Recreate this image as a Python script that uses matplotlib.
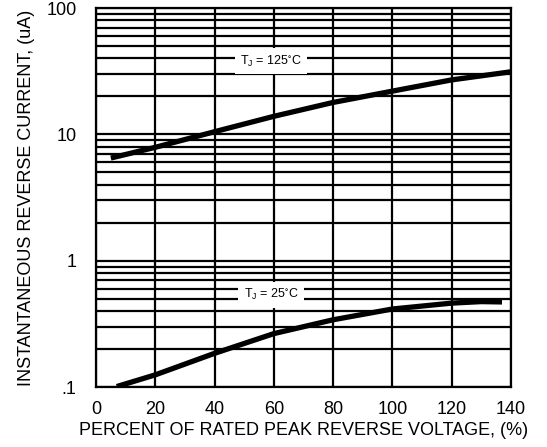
import numpy as np
import matplotlib.pyplot as plt
from matplotlib.ticker import FixedLocator, NullFormatter

plt.rcParams['font.family'] = ['Liberation Sans', 'DejaVu Sans']

# percent of rated peak reverse voltage
v_125 = [5, 20, 40, 60, 80, 100, 120, 140]
i_125 = [6.5, 7.9, 10.5, 13.9, 17.9, 22.0, 27.0, 31.3]

v_25 = [7, 20, 40, 60, 80, 100, 120, 130, 137]
i_25 = [0.101, 0.125, 0.185, 0.265, 0.341, 0.415, 0.462, 0.475, 0.472]

x_ticks = [0, 20, 40, 60, 80, 100, 120, 140]
y_ticks = [0.1, 1, 10, 100]
y_tick_labels = ['.1', '1', '10', '100']

fig = plt.figure(figsize=(5.47, 4.47), dpi=100)
ax = fig.add_axes([0.1755, 0.134, 0.7585, 0.848])

ax.set_yscale('log')
ax.set_xlim(0, 140)
ax.set_ylim(0.1, 100)

ax.set_xticks(x_ticks)
ax.set_yticks(y_ticks)
ax.set_yticklabels(y_tick_labels)
minors = [m * d for d in [0.1, 1, 10] for m in range(2, 10)]
ax.yaxis.set_minor_locator(FixedLocator(minors))
ax.yaxis.set_minor_formatter(NullFormatter())
ax.tick_params(which='both', length=0, labelsize=13, colors='black')
ax.tick_params(axis='y', pad=14)
ax.tick_params(axis='x', pad=10)

ax.grid(True, which='both', axis='y', color='black', linewidth=1.6)
ax.grid(True, which='major', axis='x', color='black', linewidth=1.6)
for s in ax.spines.values():
    s.set_linewidth(1.6)

ax.plot(v_125, i_125, color='black', linewidth=3.8, solid_capstyle='butt')
ax.plot(v_25, i_25, color='black', linewidth=3.8, solid_capstyle='butt')

box = dict(facecolor='white', edgecolor='none', pad=4)
ax.text(59, 38, r'T$\mathregular{_J}$ = 125$\mathregular{^{\circ}}$C', fontsize=9,
        ha='center', va='center', bbox=box)
ax.text(59, 0.54, r'T$\mathregular{_J}$ = 25$\mathregular{^{\circ}}$C', fontsize=9,
        ha='center', va='center', bbox=box)

ax.set_xlabel('PERCENT OF RATED PEAK REVERSE VOLTAGE, (%)', fontsize=13, labelpad=3)
ax.set_ylabel('INSTANTANEOUS REVERSE CURRENT, (uA)', fontsize=13, labelpad=8)

fig.savefig('out.png', dpi=100)
